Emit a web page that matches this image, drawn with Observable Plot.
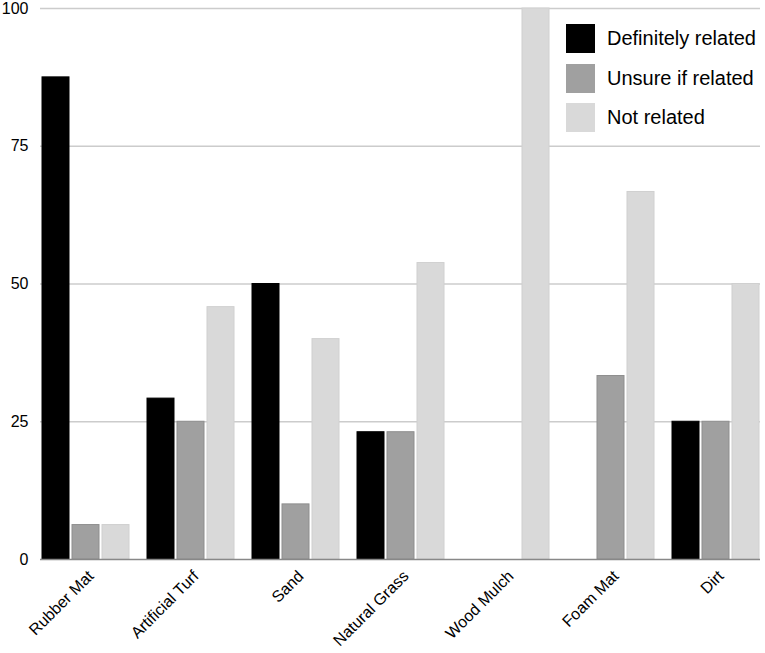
<!DOCTYPE html>
<html>
<head>
<meta charset="utf-8">
<script src="https://cdn.jsdelivr.net/npm/d3@7"></script>
<script src="https://cdn.jsdelivr.net/npm/@observablehq/plot@0.6"></script>
<style>
  body { margin: 0; background: #fff; font-family: "Liberation Sans", Arial, sans-serif; }
  #wrap { position: relative; width: 765px; height: 653px; }
  #legend { position: absolute; left: 566px; top: 24px; }
  .item { display: flex; align-items: center; height: 29px; margin-bottom: 10.5px; }
  .sw { width: 29px; height: 29px; margin-right: 12px; }
  .lab { font-size: 20px; color: #000; }
</style>
</head>
<body>
<div id="wrap"></div>
<script>
const categories = ["Rubber Mat", "Artificial Turf", "Sand", "Natural Grass", "Wood Mulch", "Foam Mat", "Dirt"];
const seriesNames = ["Definitely related", "Unsure if related", "Not related"];
const definitelyRelated = [87.5, 29.2, 50, 23.1, 0, 0, 25];
const unsureIfRelated = [6.25, 25, 10, 23.1, 0, 33.3, 25];
const notRelated = [6.25, 45.8, 40, 53.8, 100, 66.7, 50];
const yTicks = [0, 25, 50, 75, 100];
const colors = ["#000000", "#a0a0a0", "#d9d9d9"];
const strokes = ["#000000", "#8e8e8e", "#d0d0d0"];

const seriesValues = [definitelyRelated, unsureIfRelated, notRelated];
const rows = seriesValues.map((vals, s) => categories.map((c, i) => ({category: c, series: seriesNames[s], value: vals[i]})));

const insets = [[0, 60], [30, 30], [60, 0]];

const chart = Plot.plot({
  width: 765,
  height: 653,
  marginTop: 8,
  marginBottom: 94,
  marginLeft: 40,
  marginRight: 5,
  style: {fontFamily: "'Liberation Sans', Arial, sans-serif", fontSize: "16px", color: "#000"},
  x: {domain: categories, paddingInner: 0.175, paddingOuter: 0, label: null},
  y: {domain: [0, 100], ticks: yTicks, label: null},
  marks: [
    Plot.ruleY(yTicks.filter(d => d > 0), {stroke: "#cccccc", strokeWidth: 1.5}),
    ...rows.map((data, s) => Plot.barY(data, {
      x: "category", y: "value",
      fill: colors[s], stroke: strokes[s], strokeWidth: 1,
      insetLeft: insets[s][0], insetRight: insets[s][1]
    })),
    Plot.ruleY([0], {stroke: "#888888", strokeWidth: 1.5}),
    Plot.axisY({ticks: yTicks, tickSize: 0, tickPadding: 12, fontSize: 16, label: null}),
    Plot.axisX({tickSize: 0, tickRotate: -45, tickPadding: 14, dx: 5, fontSize: 16, label: null})
  ]
});

const wrap = document.getElementById("wrap");
wrap.appendChild(chart);

const legend = document.createElement("div");
legend.id = "legend";
seriesNames.forEach((name, s) => {
  const item = document.createElement("div");
  item.className = "item";
  const sw = document.createElement("div");
  sw.className = "sw";
  sw.style.background = colors[s];
  const lab = document.createElement("span");
  lab.className = "lab";
  lab.textContent = name;
  item.appendChild(sw);
  item.appendChild(lab);
  legend.appendChild(item);
});
wrap.appendChild(legend);
</script>
</body>
</html>
